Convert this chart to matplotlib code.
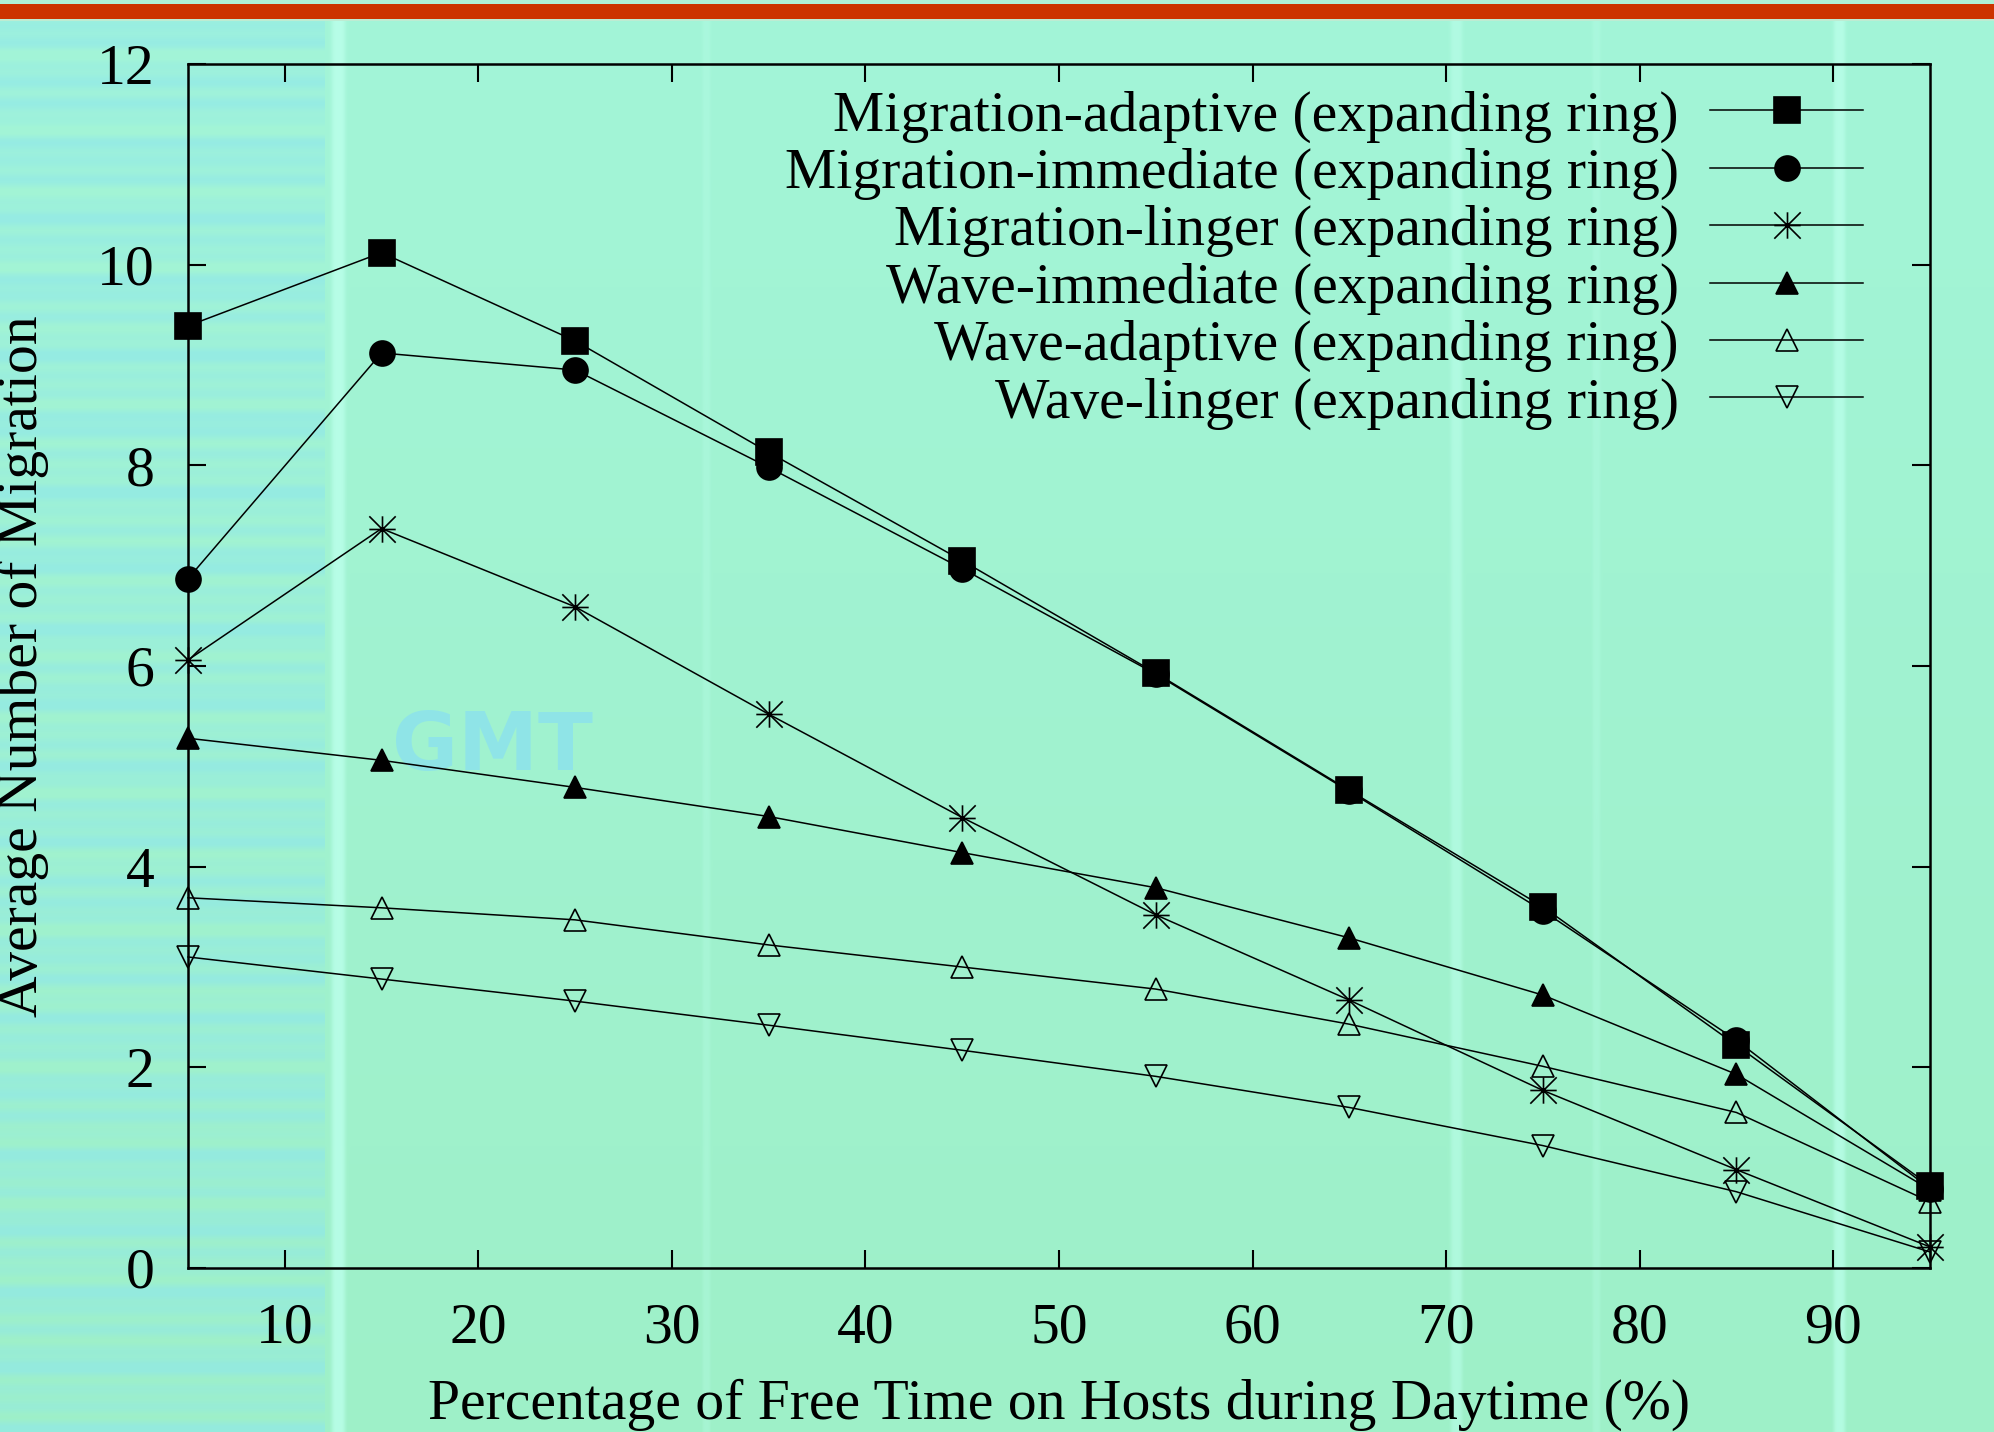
import numpy as np
import matplotlib
matplotlib.use('Agg')
import matplotlib.pyplot as plt
from matplotlib.path import Path

# ---------------- data ----------------
x_pct = [5, 15, 25, 35, 45, 55, 65, 75, 85, 95]
mig_adaptive = [9.39, 10.12, 9.24, 8.13, 7.05, 5.93, 4.76, 3.60, 2.22, 0.82]
mig_immediate = [6.87, 9.12, 8.95, 7.98, 6.97, 5.92, 4.75, 3.56, 2.27, 0.79]
mig_linger = [6.06, 7.37, 6.59, 5.52, 4.49, 3.52, 2.67, 1.77, 0.98, 0.21]
wave_immediate = [5.28, 5.06, 4.79, 4.50, 4.14, 3.79, 3.29, 2.72, 1.93, 0.78]
wave_adaptive = [3.69, 3.59, 3.47, 3.22, 3.00, 2.78, 2.43, 2.01, 1.55, 0.66]
wave_linger = [3.10, 2.88, 2.66, 2.42, 2.17, 1.91, 1.60, 1.22, 0.76, 0.16]

series_labels = [
    "Migration-adaptive (expanding ring)",
    "Migration-immediate (expanding ring)",
    "Migration-linger (expanding ring)",
    "Wave-immediate (expanding ring)",
    "Wave-adaptive (expanding ring)",
    "Wave-linger (expanding ring)",
]
x_ticks = [10, 20, 30, 40, 50, 60, 70, 80, 90]
y_ticks = [0, 2, 4, 6, 8, 10, 12]
x_label = "Percentage of Free Time on Hosts during Daytime (%)"
y_label = "Average Number of Migration"

plt.rcParams['font.family'] = ['Liberation Serif', 'DejaVu Serif']

W, H = 1994, 1432
FS = 41.5
fig = plt.figure(figsize=(W / 100, H / 100), dpi=100)
fig.patch.set_alpha(0.0)

# ---------------- background (decoration) ----------------
yy = np.arange(H)[:, None].astype(float)
xx = np.arange(W)[None, :].astype(float)
t = (yy / H)[..., None]
top_c = np.array([163, 245, 216], float)
bot_c = np.array([158, 240, 200], float)
bg = np.broadcast_to(top_c * (1 - t) + bot_c * t, (H, W, 3)).copy()
# cyan horizontal streaks on the left band
p = 0.5 + 0.5 * np.sin(yy[:, 0] / 7.3) * np.cos(yy[:, 0] / 23.1 + 0.7) + 0.25 * np.sin(yy[:, 0] / 3.1)
p = np.clip(p, 0, 1)[:, None, None]
cyan = np.array([142, 230, 236], float)
left = bg[:, :325, :]
bg[:, :325, :] = left * (1 - 0.6 * p) + cyan * 0.6 * p
# light vertical stripes
light = np.array([186, 255, 234], float)
for cx, w, s in [(338, 14, 0.85), (706, 8, 0.3), (1456, 12, 0.6), (1596, 8, 0.3), (1839, 12, 0.75)]:
    prof = (s * np.exp(-((xx[0] - cx) / (w / 2)) ** 4))[None, :, None]
    bg = bg * (1 - prof) + light * prof
# red bar at top
bg[0:4, :, :] = np.array([175, 240, 215], float)
bg[4:19, :, :] = np.array([204, 51, 0], float)
bg[19:21, :, :] = np.array([190, 235, 210], float)
fig.figimage(bg.astype(np.uint8), xo=0, yo=0, origin='upper', zorder=-20)

# faint watermark
fig.text(492 / W, 1 - 748 / H, "GMT", fontsize=58, fontweight='bold',
         family='DejaVu Sans', color='#84DCF8', alpha=0.6, ha='center', va='center', zorder=-5)

# ---------------- axes ----------------
ax = fig.add_axes([188 / W, 1 - 1268 / H, (1930 - 188) / W, (1268 - 64) / H])
ax.set_facecolor('none')

star = Path([(-1, 0), (1, 0), (0, -1), (0, 1), (-1, -1), (1, 1), (-1, 1), (1, -1)],
            [Path.MOVETO, Path.LINETO] * 4)

lw = 1.1
common = dict(color='black', linewidth=lw, clip_on=False, markeredgewidth=1.2)
ax.plot(x_pct, mig_adaptive, marker='s', markersize=18.5, markerfacecolor='black',
        label=series_labels[0], **common)
ax.plot(x_pct, mig_immediate, marker='o', markersize=18, markerfacecolor='black',
        label=series_labels[1], **common)
ax.plot(x_pct, mig_linger, marker=star, markersize=19, fillstyle='none',
        label=series_labels[2], **common)
ax.plot(x_pct, wave_immediate, marker='^', markersize=16.5, markerfacecolor='black',
        label=series_labels[3], **common)
ax.plot(x_pct, wave_adaptive, marker='^', markersize=16.5, markerfacecolor='none',
        label=series_labels[4], **common)
ax.plot(x_pct, wave_linger, marker='v', markersize=16.5, markerfacecolor='none',
        label=series_labels[5], **common)

ax.set_xlim(5, 95)
ax.set_ylim(0, 12)
ax.set_xticks(x_ticks)
ax.set_yticks(y_ticks)
for sp in ax.spines.values():
    sp.set_linewidth(1.8)
ax.tick_params(direction='in', length=13, width=1.5, top=True, right=True, labelsize=FS)
ax.tick_params(axis='x', pad=24.5)
ax.tick_params(axis='y', pad=24)

leg = ax.legend(loc='upper right', bbox_to_anchor=(1863 / W, 1 - 90 / H),
                bbox_transform=fig.transFigure, frameon=False, markerfirst=False,
                handlelength=2.65, handletextpad=0.55, labelspacing=0.085,
                borderpad=0, borderaxespad=0, fontsize=FS)

fig.text(23 / W, 1 - 666 / H, y_label, rotation=90, fontsize=FS, ha='center', va='center')
fig.text(1059 / W, 1 - 1419 / H, x_label, fontsize=FS, ha='center', va='baseline')

fig.savefig('out.png', dpi=100)
